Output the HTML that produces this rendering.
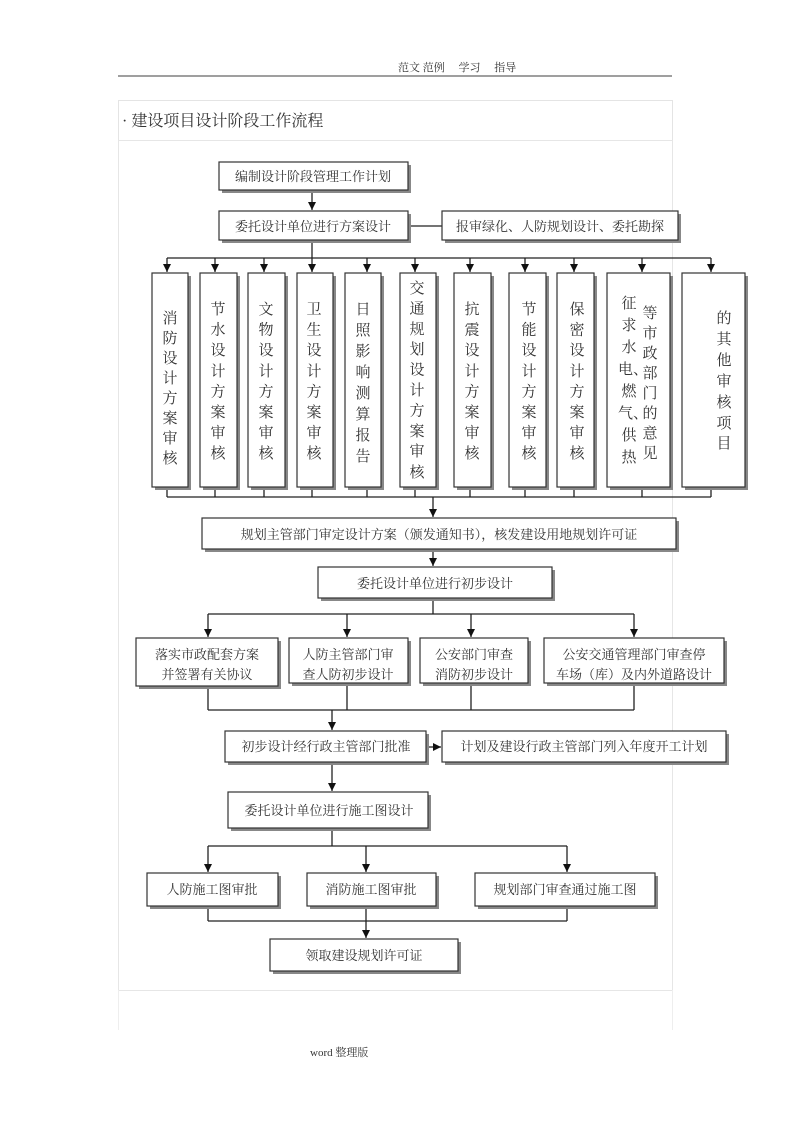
<!DOCTYPE html>
<html><head><meta charset="utf-8"><style>
html,body{margin:0;padding:0;background:#fff;}
svg{display:block;}
text{font-family:"Liberation Serif","Noto Serif CJK SC",serif;fill:#333;}
</style></head><body>
<svg width="792" height="1122" viewBox="0 0 792 1122" xmlns="http://www.w3.org/2000/svg">
<defs>
<marker id="a" markerWidth="9" markerHeight="8" refX="8" refY="4" orient="auto" markerUnits="userSpaceOnUse"><path d="M0,0 L8,4 L0,8 Z" fill="#111"/></marker>
</defs>
<text x="398" y="71" font-size="11" fill="#222">范文 范例　 学习 　指导</text>
<line x1="118" y1="76" x2="672" y2="76" stroke="#666" stroke-width="1.2"/>
<rect x="118.5" y="100.5" width="554" height="40" fill="#fff" stroke="#e4e4e4"/>
<text x="122" y="126" font-size="16" font-family="Liberation Sans,Noto Sans CJK SC,sans-serif" fill="#333">· 建设项目设计阶段工作流程</text>
<rect x="118.5" y="140.5" width="554" height="850" fill="#fff" stroke="#e6e6e6"/>
<line x1="118.5" y1="990" x2="118.5" y2="1030" stroke="#eee"/>
<line x1="672.5" y1="990" x2="672.5" y2="1030" stroke="#eee"/>
<text x="310" y="1056" font-size="11" font-family="Liberation Sans,Noto Sans CJK SC,sans-serif" fill="#222">word 整理版</text>

<g stroke="#222" stroke-width="1.3" fill="none">
<line x1="312" y1="190" x2="312" y2="210" marker-end="url(#a)"/>
<line x1="408" y1="226" x2="442" y2="226"/>
<line x1="312" y1="240" x2="312" y2="258"/>
<line x1="167" y1="258" x2="711" y2="258"/>
<g marker-end="url(#a)">
<line x1="167" y1="258" x2="167" y2="272"/><line x1="215" y1="258" x2="215" y2="272"/>
<line x1="264" y1="258" x2="264" y2="272"/><line x1="312" y1="258" x2="312" y2="272"/>
<line x1="367" y1="258" x2="367" y2="272"/><line x1="415" y1="258" x2="415" y2="272"/>
<line x1="470" y1="258" x2="470" y2="272"/><line x1="525" y1="258" x2="525" y2="272"/>
<line x1="574" y1="258" x2="574" y2="272"/><line x1="642" y1="258" x2="642" y2="272"/>
<line x1="711" y1="258" x2="711" y2="272"/>
</g>
<line x1="167" y1="497" x2="711" y2="497"/>
<path d="M167 487V497M215 487V497M264 487V497M312 487V497M367 487V497M415 487V497M470 487V497M525 487V497M574 487V497M642 487V497M711 487V497"/>
<line x1="433" y1="497" x2="433" y2="517" marker-end="url(#a)"/>
<line x1="433" y1="549" x2="433" y2="566" marker-end="url(#a)"/>
<line x1="433" y1="598" x2="433" y2="614"/>
<line x1="208" y1="614" x2="634" y2="614"/>
<g marker-end="url(#a)">
<line x1="208" y1="614" x2="208" y2="637"/><line x1="347" y1="614" x2="347" y2="637"/>
<line x1="471" y1="614" x2="471" y2="637"/><line x1="634" y1="614" x2="634" y2="637"/>
</g>
<path d="M208 686V710M347 683V710M471 683V710M634 683V710M208 710H634"/>
<line x1="332" y1="710" x2="332" y2="730" marker-end="url(#a)"/>
<line x1="427" y1="747" x2="441" y2="747" marker-end="url(#a)"/>
<line x1="332" y1="762" x2="332" y2="791" marker-end="url(#a)"/>
<line x1="332" y1="828" x2="332" y2="846"/>
<line x1="208" y1="846" x2="567" y2="846"/>
<g marker-end="url(#a)">
<line x1="208" y1="846" x2="208" y2="872"/><line x1="366" y1="846" x2="366" y2="872"/>
<line x1="567" y1="846" x2="567" y2="872"/>
</g>
<path d="M208 906V921M366 906V921M567 906V921M208 921H567"/>
<line x1="366" y1="921" x2="366" y2="938" marker-end="url(#a)"/>
</g>

<g fill="#fff" stroke="#333" stroke-width="1.2">
<g fill="#888" stroke="none">
<rect x="222" y="165" width="189" height="28"/><rect x="222" y="214" width="189" height="29"/><rect x="445" y="214" width="236" height="29"/>
<rect x="155" y="276" width="36" height="214"/><rect x="203" y="276" width="37" height="214"/><rect x="251" y="276" width="37" height="214"/>
<rect x="300" y="276" width="36" height="214"/><rect x="348" y="276" width="36" height="214"/><rect x="403" y="276" width="36" height="214"/>
<rect x="457" y="276" width="37" height="214"/><rect x="512" y="276" width="37" height="214"/><rect x="560" y="276" width="37" height="214"/>
<rect x="610" y="276" width="63" height="214"/><rect x="685" y="276" width="63" height="214"/>
<rect x="205" y="521" width="474" height="31"/><rect x="321" y="570" width="234" height="31"/>
<rect x="139" y="641" width="142" height="48"/><rect x="292" y="641" width="119" height="45"/><rect x="423" y="641" width="108" height="45"/><rect x="547" y="641" width="180" height="45"/>
<rect x="228" y="734" width="201" height="31"/><rect x="445" y="734" width="284" height="31"/>
<rect x="231" y="795" width="200" height="36"/>
<rect x="150" y="876" width="131" height="33"/><rect x="310" y="876" width="129" height="33"/><rect x="478" y="876" width="180" height="33"/>
<rect x="273" y="942" width="188" height="32"/>
</g>
<rect x="219" y="162" width="189" height="28"/><rect x="219" y="211" width="189" height="29"/><rect x="442" y="211" width="236" height="29"/>
<rect x="152" y="273" width="36" height="214"/><rect x="200" y="273" width="37" height="214"/><rect x="248" y="273" width="37" height="214"/>
<rect x="297" y="273" width="36" height="214"/><rect x="345" y="273" width="36" height="214"/><rect x="400" y="273" width="36" height="214"/>
<rect x="454" y="273" width="37" height="214"/><rect x="509" y="273" width="37" height="214"/><rect x="557" y="273" width="37" height="214"/>
<rect x="607" y="273" width="63" height="214"/><rect x="682" y="273" width="63" height="214"/>
<rect x="202" y="518" width="474" height="31"/><rect x="318" y="567" width="234" height="31"/>
<rect x="136" y="638" width="142" height="48"/><rect x="289" y="638" width="119" height="45"/><rect x="420" y="638" width="108" height="45"/><rect x="544" y="638" width="180" height="45"/>
<rect x="225" y="731" width="201" height="31"/><rect x="442" y="731" width="284" height="31"/>
<rect x="228" y="792" width="200" height="36"/>
<rect x="147" y="873" width="131" height="33"/><rect x="307" y="873" width="129" height="33"/><rect x="475" y="873" width="180" height="33"/>
<rect x="270" y="939" width="188" height="32"/>
</g>

<g font-size="13" text-anchor="middle">
<text x="313" y="181">编制设计阶段管理工作计划</text>
<text x="313" y="231">委托设计单位进行方案设计</text>
<text x="560" y="231">报审绿化、人防规划设计、委托勘探</text>
<text x="439" y="539">规划主管部门审定设计方案（颁发通知书），核发建设用地规划许可证</text>
<text x="435" y="588">委托设计单位进行初步设计</text>
<text x="207" y="659">落实市政配套方案</text><text x="207" y="679">并签署有关协议</text>
<text x="348" y="659">人防主管部门审</text><text x="348" y="679">查人防初步设计</text>
<text x="474" y="659">公安部门审查</text><text x="474" y="679">消防初步设计</text>
<text x="634" y="659">公安交通管理部门审查停</text><text x="634" y="679">车场（库）及内外道路设计</text>
<text x="326" y="751">初步设计经行政主管部门批准</text>
<text x="584" y="751">计划及建设行政主管部门列入年度开工计划</text>
<text x="329" y="815">委托设计单位进行施工图设计</text>
<text x="212" y="894">人防施工图审批</text>
<text x="371" y="894">消防施工图审批</text>
<text x="565" y="894">规划部门审查通过施工图</text>
<text x="364" y="960">领取建设规划许可证</text>
</g>

<g font-size="15" text-anchor="middle">
<text x="170" y="323">消</text><text x="170" y="343">防</text><text x="170" y="363">设</text><text x="170" y="383">计</text><text x="170" y="403">方</text><text x="170" y="423">案</text><text x="170" y="443">审</text><text x="170" y="463">核</text>
<text x="218" y="314">节</text><text x="218" y="334.6">水</text><text x="218" y="355.2">设</text><text x="218" y="375.8">计</text><text x="218" y="396.4">方</text><text x="218" y="417">案</text><text x="218" y="437.6">审</text><text x="218" y="458">核</text>
<text x="266" y="314">文</text><text x="266" y="334.6">物</text><text x="266" y="355.2">设</text><text x="266" y="375.8">计</text><text x="266" y="396.4">方</text><text x="266" y="417">案</text><text x="266" y="437.6">审</text><text x="266" y="458">核</text>
<text x="314" y="314">卫</text><text x="314" y="334.6">生</text><text x="314" y="355.2">设</text><text x="314" y="375.8">计</text><text x="314" y="396.4">方</text><text x="314" y="417">案</text><text x="314" y="437.6">审</text><text x="314" y="458">核</text>
<text x="363" y="314">日</text><text x="363" y="335">照</text><text x="363" y="356">影</text><text x="363" y="377">响</text><text x="363" y="398">测</text><text x="363" y="419">算</text><text x="363" y="440">报</text><text x="363" y="461">告</text>
<text x="417" y="293">交</text><text x="417" y="313.4">通</text><text x="417" y="333.8">规</text><text x="417" y="354.2">划</text><text x="417" y="374.6">设</text><text x="417" y="395">计</text><text x="417" y="415.4">方</text><text x="417" y="435.8">案</text><text x="417" y="456.2">审</text><text x="417" y="477">核</text>
<text x="472" y="314">抗</text><text x="472" y="334.6">震</text><text x="472" y="355.2">设</text><text x="472" y="375.8">计</text><text x="472" y="396.4">方</text><text x="472" y="417">案</text><text x="472" y="437.6">审</text><text x="472" y="458">核</text>
<text x="529" y="314">节</text><text x="529" y="334.6">能</text><text x="529" y="355.2">设</text><text x="529" y="375.8">计</text><text x="529" y="396.4">方</text><text x="529" y="417">案</text><text x="529" y="437.6">审</text><text x="529" y="458">核</text>
<text x="577" y="314">保</text><text x="577" y="334.6">密</text><text x="577" y="355.2">设</text><text x="577" y="375.8">计</text><text x="577" y="396.4">方</text><text x="577" y="417">案</text><text x="577" y="437.6">审</text><text x="577" y="458">核</text>
<text x="629" y="308">征</text><text x="629" y="330">求</text><text x="629" y="352">水</text><text x="633" y="374">电、</text><text x="629" y="396">燃</text><text x="633" y="418">气、</text><text x="629" y="440">供</text><text x="629" y="462">热</text>
<text x="650" y="318">等</text><text x="650" y="338">市</text><text x="650" y="358">政</text><text x="650" y="378">部</text><text x="650" y="398">门</text><text x="650" y="418">的</text><text x="650" y="438">意</text><text x="650" y="458">见</text>
<text x="724" y="323">的</text><text x="724" y="344">其</text><text x="724" y="365">他</text><text x="724" y="386">审</text><text x="724" y="407">核</text><text x="724" y="428">项</text><text x="724" y="448">目</text>
</g>
</svg>
</body></html>
